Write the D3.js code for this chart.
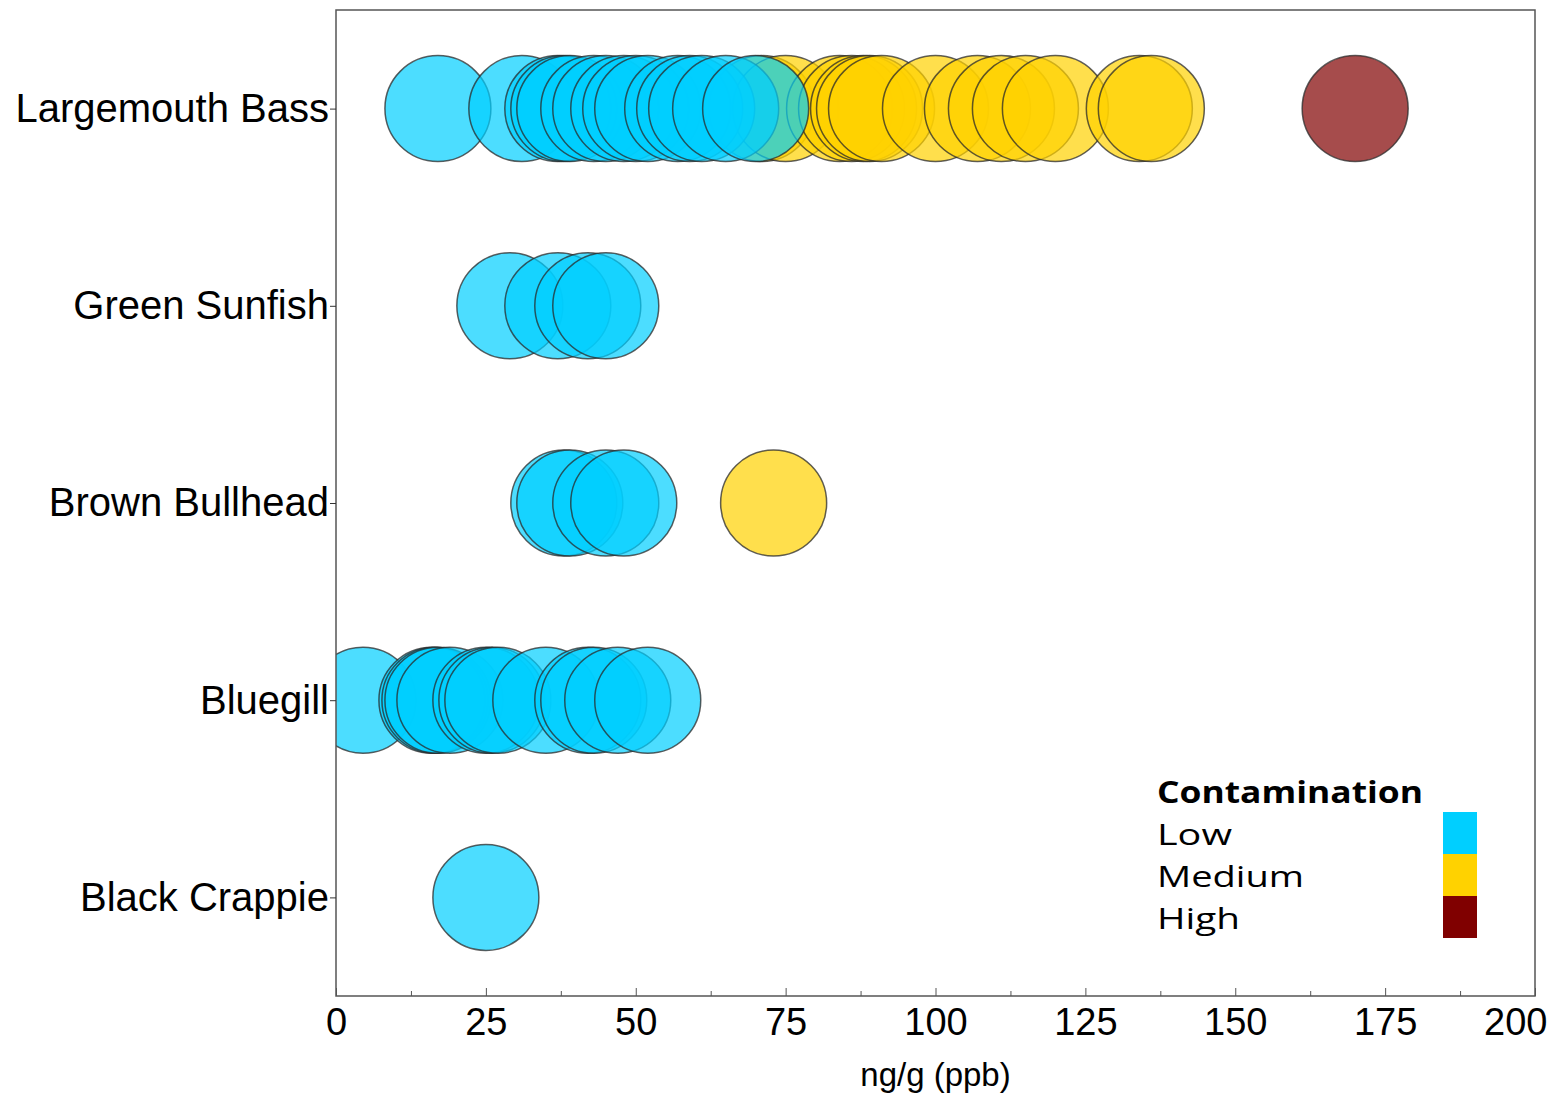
<!DOCTYPE html>
<html>
<head>
<meta charset="utf-8">
<script src="https://cdn.jsdelivr.net/npm/d3@7"></script>
<style>
  body { margin: 0; background: #fff; }
  svg { display: block; }
</style>
</head>
<body>
<svg id="chart" width="1559" height="1094"></svg>
<script>
// ---- data ----
const species = ["Largemouth Bass", "Green Sunfish", "Brown Bullhead", "Bluegill", "Black Crappie"];
const levels = ["Low", "Medium", "High"];
const levelColors = ["#00CFFF", "#FFD200", "#800000"];
const xTicks = [0, 25, 50, 75, 100, 125, 150, 175, 200];
const xMinorTicks = [12.5, 37.5, 62.5, 87.5, 112.5, 137.5, 162.5, 187.5];

const bassLow = [17, 31, 37, 38, 39, 43, 45, 48, 50, 52, 57, 59, 61, 65, 70];
const bassMedium = [71, 75, 84, 86, 88, 89, 91, 100, 107, 111, 115, 120, 134, 136];
const bassHigh = [170];
const sunfishLow = [29, 37, 42, 45];
const bullheadLow = [38, 39, 45, 48];
const bullheadMedium = [73];
const bluegillLow = [4.5, 16, 16.5, 17, 19, 25, 26, 27, 35, 42, 43, 47, 52];
const crappieLow = [25];

const groups = [
  ["Largemouth Bass", "Medium", bassMedium],
  ["Largemouth Bass", "High", bassHigh],
  ["Brown Bullhead", "Medium", bullheadMedium],
  ["Largemouth Bass", "Low", bassLow],
  ["Green Sunfish", "Low", sunfishLow],
  ["Brown Bullhead", "Low", bullheadLow],
  ["Bluegill", "Low", bluegillLow],
  ["Black Crappie", "Low", crappieLow]
];
const points = [];
groups.forEach(([sp, lv, vals]) => vals.forEach(v => points.push({ species: sp, level: lv, value: v })));

// ---- layout ----
const margin = { left: 336, right: 24, top: 10, bottom: 98 };
const W = 1559, H = 1094;
const plotW = W - margin.left - margin.right;
const plotH = H - margin.top - margin.bottom;
const R = 53;

const svg = d3.select("#chart");
const g = svg.append("g").attr("transform", `translate(${margin.left},${margin.top})`);

const x = d3.scaleLinear().domain([0, 200]).range([0, plotW]);
const y = d3.scalePoint().domain(species).range([0, plotH]).padding(0.5);
const color = d3.scaleOrdinal().domain(levels).range(levelColors);

svg.append("defs").append("clipPath").attr("id", "clip")
  .append("rect").attr("width", plotW).attr("height", plotH);

// circles
g.append("g").attr("clip-path", "url(#clip)")
  .selectAll("circle").data(points).join("circle")
  .attr("cx", d => x(d.value))
  .attr("cy", d => y(d.species))
  .attr("r", R)
  .attr("fill", d => color(d.level))
  .attr("fill-opacity", 0.7)
  .attr("stroke", "#2a2a2a")
  .attr("stroke-opacity", 0.75)
  .attr("stroke-width", 1.5);

// frame
g.append("rect").attr("width", plotW).attr("height", plotH)
  .attr("fill", "none").attr("stroke", "#555").attr("stroke-width", 1.5);

// x axis major
const xAxis = g.append("g").attr("transform", `translate(0,${plotH})`)
  .call(d3.axisBottom(x).tickValues(xTicks).tickFormat(d3.format("d")).tickSize(-8).tickPadding(12));
xAxis.select(".domain").remove();
xAxis.selectAll("line").attr("stroke", "#555");
xAxis.selectAll("text").attr("font-family", "Liberation Sans, Arial, sans-serif")
  .attr("font-size", 38).attr("fill", "#000");
// keep the last label inside the picture, as in the reference
xAxis.selectAll("text").filter(d => d === 200)
  .attr("text-anchor", "end").attr("x", 12);

// x axis minor
const xMinor = g.append("g").attr("transform", `translate(0,${plotH})`)
  .call(d3.axisBottom(x).tickValues(xMinorTicks).tickFormat("").tickSize(-5));
xMinor.select(".domain").remove();
xMinor.selectAll("line").attr("stroke", "#555");

// y axis
const yAxis = g.append("g")
  .call(d3.axisLeft(y).tickSize(6).tickPadding(1));
yAxis.select(".domain").remove();
yAxis.selectAll("line").attr("stroke", "#333");
yAxis.selectAll("text").attr("font-family", "Liberation Sans, Arial, sans-serif")
  .attr("font-size", 40).attr("fill", "#000");

// x title
svg.append("text")
  .attr("x", margin.left + plotW / 2).attr("y", 1086)
  .attr("text-anchor", "middle")
  .attr("font-family", "Liberation Sans, Arial, sans-serif")
  .attr("font-size", 33).attr("fill", "#000")
  .text("ng/g (ppb)");

// legend
const lg = svg.append("g").attr("transform", "translate(1157,803)");
lg.append("text").attr("x", 0).attr("y", 0)
  .attr("font-family", "Open Sans, Noto Sans, sans-serif")
  .attr("font-weight", "bold").attr("font-size", 30).attr("fill", "#000")
  .attr("textLength", 266).attr("lengthAdjust", "spacingAndGlyphs")
  .text("Contamination");
const step = 42;
const legendWidths = [75, 147, 83];
levels.forEach((lv, i) => {
  lg.append("text").attr("x", 0).attr("y", (i + 1) * step)
    .attr("font-family", "Open Sans, Noto Sans, sans-serif")
    .attr("font-size", 30).attr("fill", "#000")
    .attr("textLength", legendWidths[i]).attr("lengthAdjust", "spacingAndGlyphs")
    .text(lv);
  lg.append("rect").attr("x", 286).attr("y", 9 + i * step)
    .attr("width", 34).attr("height", step)
    .attr("fill", color(lv));
});
</script>
</body>
</html>
